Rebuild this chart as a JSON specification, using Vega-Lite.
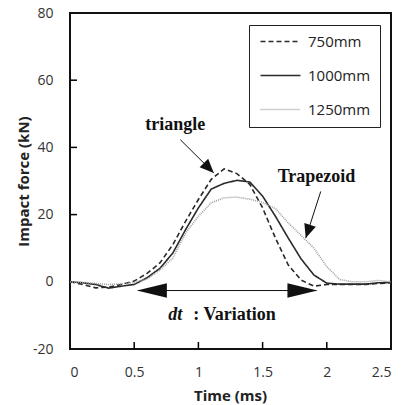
{
  "$schema": "https://vega.github.io/schema/vega-lite/v6.json",
  "width": 321,
  "height": 336,
  "autosize": {"type": "none"},
  "padding": {"left": 70, "top": 13, "right": 17, "bottom": 56},
  "background": "white",
  "config": {
    "view": {"stroke": "#111", "strokeWidth": 2},
    "font": "Open Sans",
    "axis": {
      "grid": false,
      "domain": false,
      "ticks": false,
      "labelPadding": 16,
      "labelFont": "Open Sans",
      "labelFontSize": 14,
      "labelColor": "#333",
      "titleFont": "Open Sans",
      "titleFontSize": 15,
      "titleFontWeight": "bold",
      "titleColor": "#222"
    }
  },
  "datasets": {
    "curves": [
      {"t": 0.0, "v": 0.0, "s": "750mm"},
      {"t": 0.1, "v": -0.8, "s": "750mm"},
      {"t": 0.2, "v": -1.8, "s": "750mm"},
      {"t": 0.3, "v": -1.6, "s": "750mm"},
      {"t": 0.4, "v": -0.8, "s": "750mm"},
      {"t": 0.5, "v": 0.2, "s": "750mm"},
      {"t": 0.6, "v": 2.5, "s": "750mm"},
      {"t": 0.7, "v": 5.6, "s": "750mm"},
      {"t": 0.8, "v": 11.0, "s": "750mm"},
      {"t": 0.9, "v": 18.0, "s": "750mm"},
      {"t": 1.0, "v": 24.5, "s": "750mm"},
      {"t": 1.1, "v": 30.5, "s": "750mm"},
      {"t": 1.2, "v": 33.6, "s": "750mm"},
      {"t": 1.3, "v": 32.2, "s": "750mm"},
      {"t": 1.4, "v": 29.0, "s": "750mm"},
      {"t": 1.5, "v": 22.0, "s": "750mm"},
      {"t": 1.6, "v": 13.0, "s": "750mm"},
      {"t": 1.7, "v": 5.0, "s": "750mm"},
      {"t": 1.8, "v": 0.5, "s": "750mm"},
      {"t": 1.9, "v": -1.3, "s": "750mm"},
      {"t": 2.0, "v": -0.8, "s": "750mm"},
      {"t": 2.1, "v": -0.8, "s": "750mm"},
      {"t": 2.2, "v": -0.8, "s": "750mm"},
      {"t": 2.3, "v": -0.8, "s": "750mm"},
      {"t": 2.4, "v": -0.5, "s": "750mm"},
      {"t": 2.5, "v": -0.3, "s": "750mm"},
      {"t": 0.0, "v": 0.0, "s": "1000mm"},
      {"t": 0.1, "v": -0.3, "s": "1000mm"},
      {"t": 0.2, "v": -0.8, "s": "1000mm"},
      {"t": 0.3, "v": -1.9, "s": "1000mm"},
      {"t": 0.4, "v": -1.3, "s": "1000mm"},
      {"t": 0.5, "v": -0.8, "s": "1000mm"},
      {"t": 0.6, "v": 1.2, "s": "1000mm"},
      {"t": 0.7, "v": 4.0, "s": "1000mm"},
      {"t": 0.8, "v": 8.5, "s": "1000mm"},
      {"t": 0.9, "v": 15.5, "s": "1000mm"},
      {"t": 1.0, "v": 22.0, "s": "1000mm"},
      {"t": 1.1, "v": 27.6, "s": "1000mm"},
      {"t": 1.2, "v": 29.3, "s": "1000mm"},
      {"t": 1.3, "v": 30.2, "s": "1000mm"},
      {"t": 1.4, "v": 29.7, "s": "1000mm"},
      {"t": 1.5, "v": 25.5, "s": "1000mm"},
      {"t": 1.6, "v": 19.5, "s": "1000mm"},
      {"t": 1.7, "v": 13.0, "s": "1000mm"},
      {"t": 1.8, "v": 6.8, "s": "1000mm"},
      {"t": 1.9, "v": 2.0, "s": "1000mm"},
      {"t": 2.0, "v": -0.4, "s": "1000mm"},
      {"t": 2.1, "v": -0.7, "s": "1000mm"},
      {"t": 2.2, "v": -0.7, "s": "1000mm"},
      {"t": 2.3, "v": -0.7, "s": "1000mm"},
      {"t": 2.4, "v": -0.3, "s": "1000mm"},
      {"t": 2.5, "v": -0.2, "s": "1000mm"},
      {"t": 0.0, "v": 0.0, "s": "1250mm"},
      {"t": 0.1, "v": -0.2, "s": "1250mm"},
      {"t": 0.2, "v": -0.5, "s": "1250mm"},
      {"t": 0.3, "v": -0.8, "s": "1250mm"},
      {"t": 0.4, "v": -0.6, "s": "1250mm"},
      {"t": 0.5, "v": -0.2, "s": "1250mm"},
      {"t": 0.6, "v": 0.8, "s": "1250mm"},
      {"t": 0.7, "v": 3.5, "s": "1250mm"},
      {"t": 0.8, "v": 7.0, "s": "1250mm"},
      {"t": 0.9, "v": 14.5, "s": "1250mm"},
      {"t": 1.0, "v": 19.5, "s": "1250mm"},
      {"t": 1.1, "v": 23.5, "s": "1250mm"},
      {"t": 1.2, "v": 25.0, "s": "1250mm"},
      {"t": 1.3, "v": 25.2, "s": "1250mm"},
      {"t": 1.4, "v": 24.6, "s": "1250mm"},
      {"t": 1.5, "v": 23.6, "s": "1250mm"},
      {"t": 1.6, "v": 21.8, "s": "1250mm"},
      {"t": 1.7, "v": 17.5, "s": "1250mm"},
      {"t": 1.8, "v": 13.8, "s": "1250mm"},
      {"t": 1.9, "v": 10.0, "s": "1250mm"},
      {"t": 2.0, "v": 4.5, "s": "1250mm"},
      {"t": 2.1, "v": 0.7, "s": "1250mm"},
      {"t": 2.2, "v": 0.0, "s": "1250mm"},
      {"t": 2.3, "v": 0.0, "s": "1250mm"},
      {"t": 2.4, "v": 0.4, "s": "1250mm"},
      {"t": 2.5, "v": 0.0, "s": "1250mm"}
    ]
  },
  "layer": [
    {
      "mark": {"type": "rule", "color": "#222", "strokeWidth": 1.5},
      "encoding": {"y": {"datum": 0, "type": "quantitative"}}
    },
    {
      "data": {"values": [{"t": 0.5}, {"t": 1.0}, {"t": 1.5}, {"t": 2.0}]},
      "mark": {"type": "tick", "orient": "vertical", "size": 7, "thickness": 1.5, "color": "#000", "opacity": 1, "yOffset": -3.5},
      "encoding": {
        "x": {"field": "t", "type": "quantitative"},
        "y": {"datum": -20, "type": "quantitative"}
      }
    },
    {
      "data": {"values": [{"v": 20}, {"v": 40}, {"v": 60}]},
      "mark": {"type": "tick", "orient": "horizontal", "size": 7, "thickness": 1.5, "color": "#000", "opacity": 1, "xOffset": 3.5},
      "encoding": {
        "y": {"field": "v", "type": "quantitative"},
        "x": {"datum": 0, "type": "quantitative"}
      }
    },
    {
      "data": {"name": "curves"},
      "mark": {"type": "line", "strokeWidth": 1.6},
      "encoding": {
        "x": {
          "field": "t", "type": "quantitative",
          "scale": {"domain": [0, 2.5], "nice": false, "zero": false},
          "axis": {"title": "Time (ms)", "values": [0, 0.5, 1, 1.5, 2, 2.5], "format": "~g", "labelPadding": 16, "titleX": 160, "titleY": 46, "titleBaseline": "middle"}
        },
        "y": {
          "field": "v", "type": "quantitative",
          "scale": {"domain": [-20, 80], "nice": false, "zero": false},
          "axis": {"title": "Impact force (kN)", "values": [-20, 0, 20, 40, 60, 80], "labelExpr": "'' + datum.value", "labelPadding": 17, "titleX": -47, "titleY": 168, "titleAngle": -90, "titleAlign": "center", "titleBaseline": "middle"}
        },
        "color": {
          "field": "s", "type": "nominal",
          "sort": ["750mm", "1000mm", "1250mm"],
          "scale": {"domain": ["750mm", "1000mm", "1250mm"], "range": ["#2a2a2a", "#2a2a2a", "#a0a0a0"]},
          "legend": {
            "title": null,
            "orient": "none",
            "legendX": 179,
            "legendY": 12,
            "padding": 9,
            "strokeColor": "#222",
            "fillColor": "white",
            "symbolType": "M-1,0H7",
            "symbolSize": 100,
            "symbolStrokeWidth": 1.3,
            "labelOffset": 35,
            "labelFontSize": 15,
            "labelFont": "Open Sans",
            "labelColor": "#222",
            "rowPadding": 18
          }
        },
        "strokeDash": {
          "field": "s", "type": "nominal",
          "sort": ["750mm", "1000mm", "1250mm"],
          "scale": {"domain": ["750mm", "1000mm", "1250mm"], "range": [[5, 3], [1, 0], [1, 1]]},
          "legend": {
            "title": null,
            "orient": "none",
            "legendX": 179,
            "legendY": 12,
            "padding": 9,
            "strokeColor": "#222",
            "fillColor": "white",
            "symbolType": "M-1,0H7",
            "symbolSize": 100,
            "symbolStrokeWidth": 1.3,
            "labelOffset": 35,
            "labelFontSize": 15,
            "labelFont": "Open Sans",
            "labelColor": "#222",
            "rowPadding": 18
          }
        }
      }
    },
    {
      "data": {"values": [
        {"t": 0.859, "v": 42.3, "t2": 1.12, "v2": 32.4},
        {"t": 1.953, "v": 26.9, "t2": 1.836, "v2": 13.0},
        {"t": 0.53, "v": -2.6, "t2": 1.92, "v2": -2.6}
      ]},
      "mark": {"type": "rule", "color": "#111", "strokeWidth": 1},
      "encoding": {
        "x": {"field": "t", "type": "quantitative"},
        "y": {"field": "v", "type": "quantitative"},
        "x2": {"field": "t2"},
        "y2": {"field": "v2"}
      }
    },
    {
      "data": {"values": [{"t": 1.12, "v": 32.4}]},
      "mark": {"type": "point", "shape": "M0,0L-0.43,1L0.43,1Z", "size": 784, "filled": true, "color": "#111", "opacity": 1, "angle": 135},
      "encoding": {"x": {"field": "t", "type": "quantitative"}, "y": {"field": "v", "type": "quantitative"}}
    },
    {
      "data": {"values": [{"t": 1.836, "v": 13.0}]},
      "mark": {"type": "point", "shape": "M0,0L-0.43,1L0.43,1Z", "size": 784, "filled": true, "color": "#111", "opacity": 1, "angle": 198},
      "encoding": {"x": {"field": "t", "type": "quantitative"}, "y": {"field": "v", "type": "quantitative"}}
    },
    {
      "data": {"values": [{"t": 0.521, "v": -2.6}]},
      "mark": {"type": "point", "shape": "M0,0L-0.24,1L0.24,1Z", "size": 3600, "filled": true, "color": "#111", "opacity": 1, "angle": 270},
      "encoding": {"x": {"field": "t", "type": "quantitative"}, "y": {"field": "v", "type": "quantitative"}}
    },
    {
      "data": {"values": [{"t": 1.927, "v": -2.6}]},
      "mark": {"type": "point", "shape": "M0,0L-0.24,1L0.24,1Z", "size": 3600, "filled": true, "color": "#111", "opacity": 1, "angle": 90},
      "encoding": {"x": {"field": "t", "type": "quantitative"}, "y": {"field": "v", "type": "quantitative"}}
    },
    {
      "data": {"values": [
        {"t": 0.82, "v": 45.2, "label": "triangle"},
        {"t": 1.92, "v": 29.6, "label": "Trapezoid"}
      ]},
      "mark": {"type": "text", "font": "Liberation Serif", "fontSize": 18, "fontWeight": "bold", "align": "center", "baseline": "alphabetic", "color": "#111"},
      "encoding": {"x": {"field": "t", "type": "quantitative"}, "y": {"field": "v", "type": "quantitative"}, "text": {"field": "label"}}
    },
    {
      "data": {"values": [{"t": 0.766, "v": -11.5, "label": "dt"}]},
      "mark": {"type": "text", "font": "Liberation Serif", "fontSize": 18, "fontWeight": "bold", "fontStyle": "italic", "align": "left", "baseline": "alphabetic", "color": "#111"},
      "encoding": {"x": {"field": "t", "type": "quantitative"}, "y": {"field": "v", "type": "quantitative"}, "text": {"field": "label"}}
    },
    {
      "data": {"values": [{"t": 0.96, "v": -11.5, "label": ":  Variation"}]},
      "mark": {"type": "text", "font": "Liberation Serif", "fontSize": 18, "fontWeight": "bold", "align": "left", "baseline": "alphabetic", "color": "#111"},
      "encoding": {"x": {"field": "t", "type": "quantitative"}, "y": {"field": "v", "type": "quantitative"}, "text": {"field": "label"}}
    }
  ]
}
